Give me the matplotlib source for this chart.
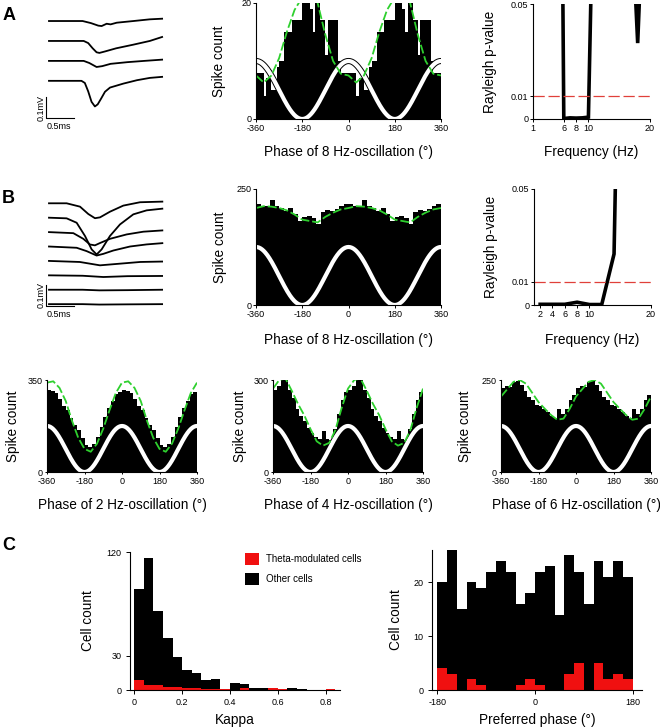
import matplotlib
matplotlib.use("Agg")
import matplotlib.pyplot as plt
import matplotlib.patheffects as pe
import numpy as np

W, H = 660, 728

# ---------------- data ----------------
# example waveforms: time (ms) and deflection (mV) from each trace's own baseline
wave_a_t = [
    [0, 0.3, 0.6, 0.75, 0.88, 0.94, 1.03, 1.1, 1.21, 1.51, 1.8, 2.02],
    [0, 0.3, 0.62, 0.7, 0.78, 0.85, 0.9, 1.0, 1.2, 1.5, 1.8, 2.02],
    [0, 0.3, 0.62, 0.72, 0.85, 0.95, 1.1, 1.4, 1.7, 2.02],
    [0, 0.3, 0.58, 0.64, 0.7, 0.76, 0.82, 0.87, 0.93, 1.0, 1.09, 1.33, 1.57, 1.8, 2.02],
]
wave_a_v = [
    [0, 0, 0, -0.01, -0.022, -0.024, -0.013, -0.016, -0.008, 0, 0.008, 0.011],
    [0, 0, 0, -0.01, -0.035, -0.054, -0.057, -0.05, -0.035, -0.018, 0.0, 0.019],
    [0, 0, 0, -0.01, -0.029, -0.025, -0.014, -0.006, 0.0, 0.006],
    [0, 0, 0, -0.01, -0.05, -0.1, -0.122, -0.112, -0.085, -0.052, -0.032, -0.013, 0.003, 0.014, 0.019],
]
wave_b_t = [
    [0, 0.315, 0.554, 0.702, 0.821, 0.911, 1.089, 1.327, 1.625, 2.024],
    [0, 0.315, 0.494, 0.643, 0.762, 0.851, 0.940, 1.089, 1.268, 1.506, 1.744, 2.024],
    [0, 0.435, 0.613, 0.732, 0.821, 0.911, 1.089, 1.387, 1.685, 2.024],
    [0, 0.494, 0.673, 0.851, 0.970, 1.149, 1.446, 1.744, 2.024],
    [0, 0.55, 0.91, 1.27, 1.63, 2.02],
    [0, 0.6, 0.97, 1.4, 2.02],
    [0, 0.6, 0.9, 1.4, 2.02],
    [0, 0.6, 0.9, 1.4, 2.02],
]
wave_b_v = [
    [0, 0, -0.016, -0.051, -0.071, -0.067, -0.040, -0.011, 0.005, 0.008],
    [0, -0.003, -0.024, -0.087, -0.151, -0.175, -0.151, -0.087, -0.032, 0.016, 0.035, 0.043],
    [0, -0.005, -0.032, -0.059, -0.063, -0.052, -0.032, -0.011, 0.002, 0.008],
    [0, -0.006, -0.022, -0.043, -0.035, -0.019, 0, 0.010, 0.016],
    [0, -0.005, -0.021, -0.013, -0.005, -0.003],
    [0, -0.002, -0.008, -0.004, -0.003],
    [0, 0, -0.003, -0.002, 0],
    [0, 0, -0.002, -0.001, 0],
]

# phase histograms (one cycle starting at -360 deg, shown twice)
a_counts = [8, 8, 8, 4, 7, 7, 5, 5, 9, 10, 10, 15, 15, 15, 17, 17, 17, 17,
            20, 20, 20, 19, 15, 20, 20, 17, 17, 11, 17, 17, 17, 17, 10, 8, 8, 8]
b_counts = [218, 214, 213, 226, 213, 209, 202, 210, 196, 182,
            189, 192, 187, 175, 200, 205, 202, 207, 213, 218]
hz2_counts = [312, 310, 300, 276, 252, 235, 206, 178, 158, 128,
              104, 96, 105, 135, 172, 208, 243, 272, 295, 306]
hz4_counts = [268, 280, 300, 300, 268, 240, 205, 181, 165, 143,
              127, 113, 107, 135, 108, 105, 140, 190, 235, 262]
hz6_counts = [228, 235, 232, 245, 248, 236, 221, 205, 196, 182,
              178, 171, 162, 153, 146, 172, 158, 170, 195, 210]

# smoothed fits, every 30 deg over one cycle from -360
a_fit = [7.5, 6.3, 7.5, 10.5, 15.0, 18.8, 21.0, 22.5, 20.0, 14.5, 10.0, 7.8]
b_fit = [209, 213, 212, 209, 204, 195, 184, 181, 178, 190, 199, 206]
hz2_fit = [340, 345, 320, 270, 195, 130, 88, 77, 108, 165, 235, 300]
hz4_fit = [272, 300, 305, 265, 222, 185, 140, 100, 86, 95, 138, 210]
hz6_fit = [205, 225, 245, 250, 240, 215, 190, 172, 155, 142, 145, 172]

# Rayleigh p-values vs frequency
freq_a = list(range(1, 21))
p_a = [0.6, 0.8, 0.5, 0.3, 0.35, 0.0002, 0.0005, 0.0004, 0.0005, 0.0008,
       0.13, 0.4, 0.6, 0.3, 0.5, 0.2, 0.09, 0.033, 0.10, 0.3]
freq_b = [2, 4, 6, 8, 10, 12, 14, 16, 18, 20]
p_b = [0.0003, 0.0003, 0.0003, 0.0012, 0.0002, 0.0002, 0.022, 0.3, 0.5, 0.6]

# population histograms
kappa_red = [9, 4, 4, 3, 3, 2, 2, 1, 1, 1, 0, 2, 0, 0, 2, 1, 0, 0, 0, 0, 1]
kappa_other = [79, 111, 65, 42, 26, 15, 13, 8, 9, 0, 6, 3, 2, 2, 0, 0, 2, 1, 0, 0, 0]
pref_red = [4, 3, 0, 2, 1, 0, 0, 0, 1, 2, 1, 0, 0, 3, 5, 0, 5, 2, 3, 2]
pref_other = [16, 23, 15, 18, 18, 22, 24, 22, 15, 16, 21, 23, 14, 22, 17, 16, 19, 19, 21, 19]

GREEN = "#2ed02e"
RED = "#f01010"
RED_DASH = "#e0403a"
LABEL_FS = 9.8
TICK_FS = 6.5

plt.rcParams.update({
    "font.family": ["Liberation Sans", "DejaVu Sans"],
    "axes.unicode_minus": False,
    "axes.linewidth": 0.8,
})

fig = plt.figure(figsize=(W / 100, H / 100), dpi=100)


def add_px(x0, y0, x1, y1):
    return fig.add_axes([x0 / W, 1 - y1 / H, (x1 - x0) / W, (y1 - y0) / H])


def finish(ax, rect, xlabel, ylabel, xgap, ygap, tlen=2.5, xpad=1.0, ypad=1.0):
    x0, y0, x1, y1 = rect
    for s in ("top", "right"):
        ax.spines[s].set_visible(False)
    ax.tick_params(direction="out", length=tlen, width=0.7, labelsize=TICK_FS)
    ax.tick_params(axis="x", pad=xpad)
    ax.tick_params(axis="y", pad=ypad)
    ax.set_xlabel(xlabel, fontsize=LABEL_FS)
    ax.set_ylabel(ylabel, fontsize=LABEL_FS)
    ax.xaxis.set_label_coords(0.5, -xgap / (y1 - y0))
    ax.yaxis.set_label_coords(-ygap / (x1 - x0), 0.5)


def waves(rect, ts, vs, spacing, ylim, bar_y):
    ax = add_px(*rect)
    ax.axis("off")
    for i, (t, v) in enumerate(zip(ts, vs)):
        ax.plot(t, np.array(v) - i * spacing, color="black", lw=1.3,
                solid_joinstyle="round")
    ax.set_xlim(-0.339, 2.161)
    ax.set_ylim(*ylim)
    bx = -0.054
    ax.plot([bx, bx, bx + 0.5], [bar_y + 0.1, bar_y, bar_y], color="black", lw=0.8)
    ax.text(bx - 0.085, bar_y + 0.05, "0.1mV", rotation=90, ha="center",
            va="center", fontsize=6.5)
    ax.text(bx + 0.015, bar_y - 0.018, "0.5ms", ha="left", va="top", fontsize=6.5)


def phase_hist(rect, counts, bin_w, fit, ymax, hz, xgap, ygap,
               tlen=2.5, xpad=1.0, ypad=1.0):
    ax = add_px(*rect)
    edges = np.arange(-360, 360 + bin_w, bin_w)
    ax.stairs(counts + counts, edges, fill=True, color="black", lw=0)
    ph = np.linspace(-360, 360, 361)
    ref = ymax / 4 * (1 + np.cos(np.deg2rad(ph)))
    ax.plot(ph, ref, color="white", lw=3,
            path_effects=[pe.Stroke(linewidth=4.4, foreground="black"), pe.Normal()])
    fx = np.arange(-360, 361, 30)
    ax.plot(fx, fit + fit + fit[:1], color=GREEN, lw=1.3, dashes=(5, 1.6))
    ax.set_xlim(-360, 360)
    ax.set_ylim(0, ymax)
    ax.set_xticks([-360, -180, 0, 180, 360])
    ax.set_yticks([0, ymax])
    finish(ax, rect, f"Phase of {hz} Hz-oscillation (°)", "Spike count",
           xgap, ygap, tlen, xpad, ypad)


def rayleigh(rect, freqs, pvals, xticks, xgap, ygap):
    ax = add_px(*rect)
    ax.plot(freqs, pvals, color="black", lw=2.6, solid_joinstyle="miter")
    ax.axhline(0.01, color=RED_DASH, lw=0.9, dashes=(9, 3))
    ax.set_xlim(1, 20)
    ax.set_ylim(0, 0.05)
    ax.set_xticks(xticks)
    ax.set_yticks([0, 0.01, 0.05])
    ax.set_yticklabels(["0", "0.01", "0.05"])
    finish(ax, rect, "Frequency (Hz)", "Rayleigh p-value", xgap, ygap)


# ---- row A ----
waves((30, 8, 170, 135), wave_a_t, wave_a_v, 0.095, (-0.543, 0.062), -0.462)
phase_hist((256, 3, 441, 119), a_counts, 10, a_fit, 20, 8, 26, 30)
rayleigh((533, 4, 650, 119), freq_a, p_a, [1, 6, 8, 10, 20], 26, 36)

# ---- row B ----
waves((30, 190, 170, 325), wave_b_t, wave_b_v, 0.0686, (-0.5795, 0.0633), -0.489)
phase_hist((256, 189, 441, 305), b_counts, 18, b_fit, 250, 8, 28, 29)
rayleigh((534, 189, 651, 305), freq_b, p_b, [2, 4, 6, 8, 10, 20], 28, 36)

# ---- other frequencies ----
phase_hist((47, 380, 197, 472), hz2_counts, 18, hz2_fit, 350, 2, 26, 27, 1.5, 2.2, 1.5)
phase_hist((273, 380, 423, 472), hz4_counts, 18, hz4_fit, 300, 4, 26, 26, 1.5, 2.2, 1.5)
phase_hist((501, 380, 651, 472), hz6_counts, 18, hz6_fit, 250, 6, 26, 29, 1.5, 2.2, 1.5)

# ---- C: kappa ----
rect = (130, 552, 340, 690)
ax = add_px(*rect)
kr = np.array(kappa_red)
ko = np.array(kappa_other)
k_edges = np.arange(len(kr) + 1) * 0.04
h_red = ax.stairs(kr, k_edges, fill=True, color=RED, lw=0)
h_blk = ax.stairs(kr + ko, k_edges, baseline=kr, fill=True, color="black", lw=0)
ax.set_xlim(-0.018, 0.86)
ax.set_ylim(0, 120)
ax.set_xticks([0, 0.2, 0.4, 0.6, 0.8])
ax.set_xticklabels(["0", "0.2", "0.4", "0.6", "0.8"])
ax.set_yticks([0, 30, 120])
finish(ax, rect, "Kappa", "Cell count", 23, 35, 3, 3, 3)
ax.legend([h_red, h_blk], ["Theta-modulated cells", "Other cells"],
          loc="upper left", bbox_to_anchor=(245 / W, 1 - 553 / H),
          bbox_transform=fig.transFigure, frameon=False, fontsize=7,
          handlelength=1.45, handleheight=1.5, handletextpad=0.7,
          labelspacing=0.85, borderpad=0, borderaxespad=0)

# ---- C: preferred phase ----
rect = (432, 550, 642, 690)
ax = add_px(*rect)
pr = np.array(pref_red)
po = np.array(pref_other)
p_edges = np.linspace(-180, 180, len(pr) + 1)
ax.stairs(pr, p_edges, fill=True, color=RED, lw=0)
ax.stairs(pr + po, p_edges, baseline=pr, fill=True, color="black", lw=0)
ax.set_xlim(-190, 197)
ax.set_ylim(0, 26)
ax.set_xticks([-180, 0, 180])
ax.set_yticks([0, 10, 20])
finish(ax, rect, "Preferred phase (°)", "Cell count", 23, 29, 3, 3, 3)

# panel letters
for letter, x, y in [("A", 9, 15), ("B", 8, 199), ("C", 9, 546)]:
    fig.text(x / W, 1 - y / H, letter, ha="center", va="center",
             fontsize=13, fontweight="bold")

fig.savefig("out.png", dpi=100)
